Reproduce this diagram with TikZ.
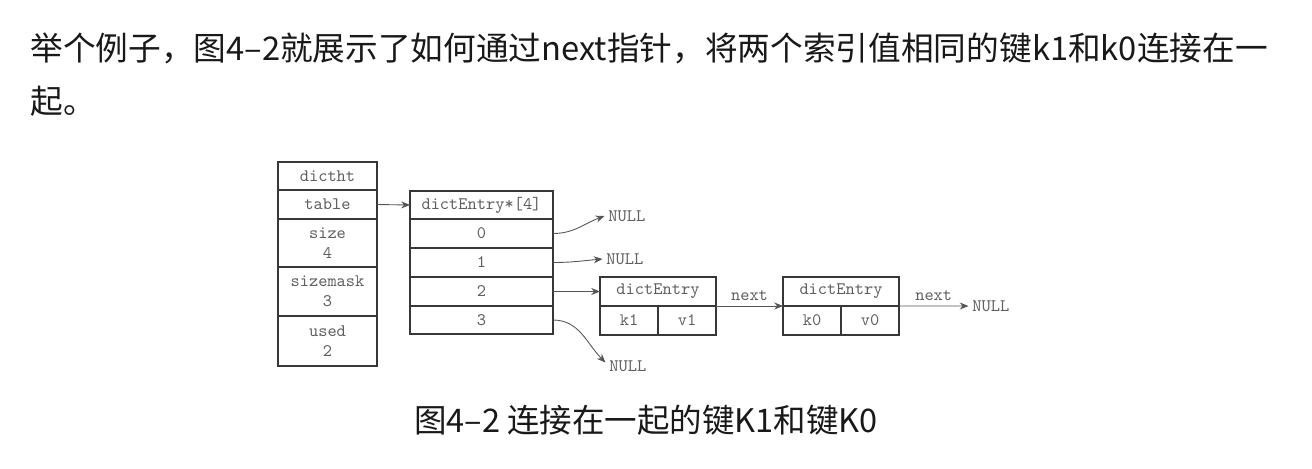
\documentclass[tikz,border=0pt]{standalone}
\usepackage{fontspec}
\newfontfamily\cjk{Noto Sans CJK SC}
\usepackage{xcolor}
\definecolor{boxline}{RGB}{55,55,55}
\definecolor{boxtext}{RGB}{95,95,95}
\definecolor{arrowgray}{RGB}{85,85,85}
\definecolor{bodytext}{RGB}{25,25,25}
\usetikzlibrary{arrows.meta}

\begin{document}
\begin{tikzpicture}[x=0.02cm, y=-0.02cm,
  cell/.style={draw=boxline, line width=1.1pt, inner sep=0pt, outer sep=0pt,
               font=\ttfamily\fontsize{10}{11.5}\selectfont, text=boxtext, align=center},
  ptr/.style={draw=arrowgray, line width=0.5pt, -{Stealth[length=5pt,width=4pt]}},
  nulltxt/.style={font=\ttfamily\fontsize{10}{11}\selectfont, text=boxtext, inner sep=0pt, anchor=west},
  bodytxt/.style={font=\cjk\fontsize{18.6}{20}\selectfont, text=bodytext, inner sep=0pt}]

\fill[white] (0,0) rectangle (1312,468);
\useasboundingbox (0,0) rectangle (1312,468);

% --- Paragraph above the figure ---
\node[bodytxt, anchor=west] (line1) at (30,48) {举个例子，图4–2就展示了如何通过next指针，将两个索引值相同的键k1和k0连接在一};
\node[bodytxt, anchor=west] (line2) at (30,101) {起。};

% --- dictht ---
\node[cell, minimum width=1.98cm, minimum height=0.56cm] (dictht) at (327.5,176) {dictht};
\node[cell, minimum width=1.98cm, minimum height=0.58cm] (table) at (327.5,204.5) {table};
\node[cell, minimum width=1.98cm, minimum height=0.96cm] (size) at (327.5,243) {size\\4};
\node[cell, minimum width=1.98cm, minimum height=0.98cm] (sizemask) at (327.5,291.5) {sizemask\\3};
\node[cell, minimum width=1.98cm, minimum height=1.0cm] (used) at (327.5,341) {used\\2};

% --- dictEntry*[4] array ---
\node[cell, minimum width=2.86cm, minimum height=0.56cm] (arr) at (481.5,205) {dictEntry*[4]};
\node[cell, minimum width=2.86cm, minimum height=0.58cm] (row0) at (481.5,233.5) {0};
\node[cell, minimum width=2.86cm, minimum height=0.58cm] (row1) at (481.5,262.5) {1};
\node[cell, minimum width=2.86cm, minimum height=0.58cm] (row2) at (481.5,291.5) {2};
\node[cell, minimum width=2.86cm, minimum height=0.56cm] (row3) at (481.5,320) {3};

% --- first dictEntry ---
\node[cell, minimum width=2.32cm, minimum height=0.58cm] (ent1) at (658,291.5) {dictEntry};
\node[cell, minimum width=1.16cm, minimum height=0.58cm] (k1) at (629,320.5) {k1};
\node[cell, minimum width=1.16cm, minimum height=0.58cm] (v1) at (687,320.5) {v1};

% --- second dictEntry ---
\node[cell, minimum width=2.32cm, minimum height=0.58cm] (ent2) at (841,291.5) {dictEntry};
\node[cell, minimum width=1.16cm, minimum height=0.58cm] (k0) at (812,320.5) {k0};
\node[cell, minimum width=1.16cm, minimum height=0.58cm] (v0) at (870,320.5) {v0};

% NULL ends
\node[nulltxt] (null0) at (608,216) {NULL};
\node[nulltxt] (null1) at (606,259) {NULL};
\node[nulltxt] (null3) at (609,366) {NULL};
\node[nulltxt] (null4) at (972,306) {NULL};

% --- pointers ---
\draw[ptr] (table.east) -- (arr.west);
\draw[ptr] (row0.east) to[out=0, in=200] ([xshift=-2pt]null0.west);
\draw[ptr] (row1.east) to[out=0, in=185] ([xshift=-2pt]null1.west);
\draw[ptr] (row2.east) -- (ent1.west);
\draw[ptr] (row3.east) to[out=0, in=135] ([xshift=-2pt, yshift=2pt]null3.west);
\draw[ptr] (ent1.south east) -- node[nulltxt, anchor=south, yshift=3pt] (next1) {next} (ent2.south west);
\draw[ptr] (ent2.south east) -- node[nulltxt, anchor=south, yshift=3pt] (next2) {next} ([xshift=-2pt]null4.west);

% --- caption ---
\node[font=\cjk\fontsize{18.5}{20}\selectfont, text=bodytext, inner sep=0pt] (caption) at (646,420) {图4–2 连接在一起的键K1和键K0};

\end{tikzpicture}
\end{document}
